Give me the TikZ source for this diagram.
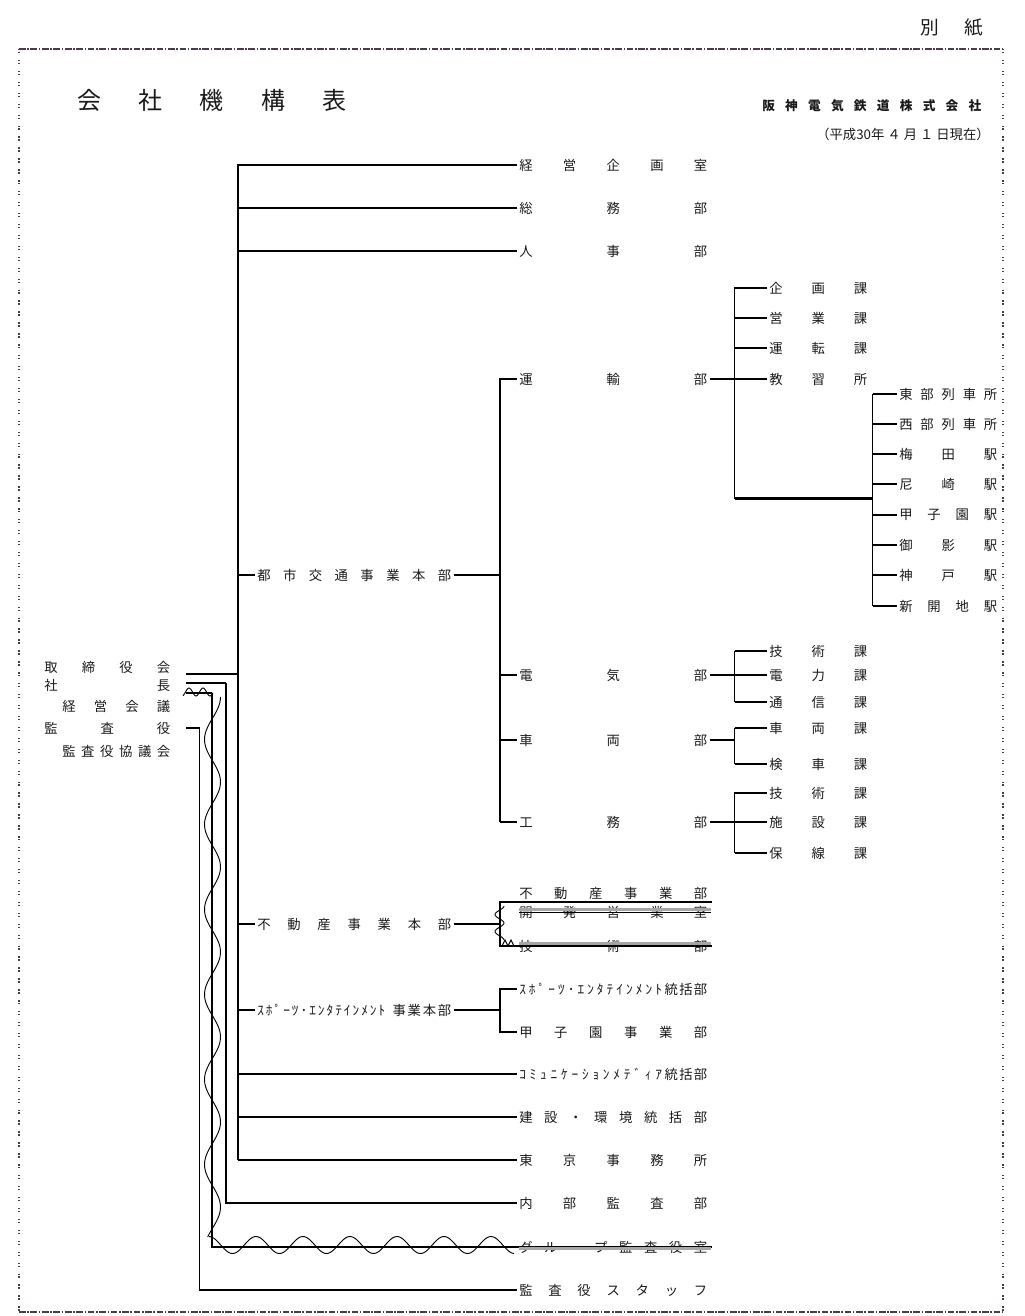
\documentclass[tikz,border=0pt]{standalone}
\usepackage{fontspec}
\newfontfamily\jp{Noto Sans CJK JP}
\usetikzlibrary{calc}
\definecolor{bord}{HTML}{4A3C4A}
\definecolor{txt}{HTML}{1A1A1A}
\makeatletter
\newcommand\spr[2]{\makebox[#1][s]{\def\sp@sep{}\@tfor\sp@c:=#2\do{\sp@sep\sp@c\def\sp@sep{\hfill}}}}
\makeatother
\tikzset{
 lab/.style={inner xsep=1.5pt, inner ysep=0pt, anchor=west, text=txt},
 thk/.style={line width=1.9pt},
 thn/.style={line width=0.9pt},
 wav/.style={line width=0.7pt},
 strk/.style={gray!70, line width=2.2pt},
}
\begin{document}
\begin{tikzpicture}[x=0.75pt,y=-0.75pt,font={\jp\fontsize{10}{12}\selectfont}]
\useasboundingbox (0,0) rectangle (1024,1316);
% border
\draw[bord, line width=0.9pt, dash pattern=on 5pt off 1.2pt on 1.2pt off 1.2pt] (19,49) -- (1003,49);
\draw[bord, line width=0.9pt, dash pattern=on 5pt off 1.2pt on 1.2pt off 1.2pt] (19,1312) -- (1003,1312);
\draw[bord, line width=1.2pt, dash pattern=on 1pt off 1.2pt on 1pt off 5pt] (19,49) -- (19,1312);
\draw[bord, line width=1.2pt, dash pattern=on 1pt off 1.2pt on 1pt off 5pt] (1003,49) -- (1003,1312);
% header
\node[lab, font={\jp\fontsize{14}{16}\selectfont}] (bessi) at (918,28) {\spr{47pt}{別紙}};
\node[lab, font={\jp\fontsize{18}{20}\selectfont}] (title) at (75,100) {\spr{201.75pt}{会社機構表}};
\node[lab, font={\jp\bfseries\fontsize{9.5}{11}\selectfont}] (corp) at (760,106) {\spr{164.25pt}{阪神電気鉄道株式会社}};
\node[lab, anchor=east] (date) at (992,134) {（平成30年 ４ 月 １ 日現在）};
% left labels
\node[lab] (l1) at (42,667) {\spr{94.5pt}{取締役会}};
\node[lab] (l2) at (42,685) {\spr{94.5pt}{社長}};
\node[lab] (l3) at (60,706) {\spr{81pt}{経営会議}};
\node[lab] (l4) at (42,728) {\spr{94.5pt}{監査役}};
\node[lab] (l5) at (60,751) {\spr{81pt}{監査役協議会}};
% mid labels
\node[lab] (m1) at (255,575) {\spr{145.5pt}{都市交通事業本部}};
\node[lab] (m2) at (255,924) {\spr{145.5pt}{不動産事業本部}};
\node[lab] (m3) at (255,1010) {\makebox[145.5pt][s]{\spr{96pt}{ｽﾎﾟｰﾂ･ｴﾝﾀﾃｲﾝﾒﾝﾄ}\hfill\spr{44pt}{事業本部}}};
% column A
\node[lab] (a1) at (517,165) {\spr{141pt}{経営企画室}};
\node[lab] (a2) at (517,208) {\spr{141pt}{総務部}};
\node[lab] (a3) at (517,251) {\spr{141pt}{人事部}};
\node[lab] (a4) at (517,379) {\spr{141pt}{運輸部}};
\node[lab] (a5) at (517,675) {\spr{141pt}{電気部}};
\node[lab] (a6) at (517,740) {\spr{141pt}{車両部}};
\node[lab] (a7) at (517,822) {\spr{141pt}{工務部}};
\node[lab] (a8) at (517,893) {\spr{141pt}{不動産事業部}};
\node[lab] (a9) at (517,912) {\spr{141pt}{開発営業室}};
\node[lab] (a10) at (517,946) {\spr{141pt}{技術部}};
\node[lab] (a11) at (517,989) {\makebox[141pt][s]{\spr{107pt}{ｽﾎﾟｰﾂ･ｴﾝﾀﾃｲﾝﾒﾝﾄ}\hfill\spr{32pt}{統括部}}};
\node[lab] (a12) at (517,1032) {\spr{141pt}{甲子園事業部}};
\node[lab] (a13) at (517,1074) {\makebox[141pt][s]{\spr{107pt}{ｺﾐｭﾆｹｰｼｮﾝﾒﾃﾞｨｱ}\hfill\spr{32pt}{統括部}}};
\node[lab] (a14) at (517,1117) {\spr{141pt}{建設・環境統括部}};
\node[lab] (a15) at (517,1160) {\spr{141pt}{東京事務所}};
\node[lab] (a16) at (517,1203) {\spr{141pt}{内部監査部}};
\node[lab] (a17) at (517,1247) {\spr{141pt}{グループ監査役室}};
\node[lab] (a18) at (517,1290) {\spr{141pt}{監査役スタッフ}};
% column B
\node[lab] (b1) at (767,288) {\spr{73.5pt}{企画課}};
\node[lab] (b2) at (767,318) {\spr{73.5pt}{営業課}};
\node[lab] (b3) at (767,348) {\spr{73.5pt}{運転課}};
\node[lab] (b4) at (767,379) {\spr{73.5pt}{教習所}};
\node[lab] (b5) at (767,651) {\spr{73.5pt}{技術課}};
\node[lab] (b6) at (767,675) {\spr{73.5pt}{電力課}};
\node[lab] (b7) at (767,702) {\spr{73.5pt}{通信課}};
\node[lab] (b8) at (767,728) {\spr{73.5pt}{車両課}};
\node[lab] (b9) at (767,764) {\spr{73.5pt}{検車課}};
\node[lab] (b10) at (767,793) {\spr{73.5pt}{技術課}};
\node[lab] (b11) at (767,822) {\spr{73.5pt}{施設課}};
\node[lab] (b12) at (767,853) {\spr{73.5pt}{保線課}};
% column C
\node[lab] (c1) at (897,394) {\spr{73.5pt}{東部列車所}};
\node[lab] (c2) at (897,424) {\spr{73.5pt}{西部列車所}};
\node[lab] (c3) at (897,454) {\spr{73.5pt}{梅田駅}};
\node[lab] (c4) at (897,484) {\spr{73.5pt}{尼崎駅}};
\node[lab] (c5) at (897,515) {\spr{73.5pt}{甲子園駅}};
\node[lab] (c6) at (897,545) {\spr{73.5pt}{御影駅}};
\node[lab] (c7) at (897,575) {\spr{73.5pt}{神戸駅}};
\node[lab] (c8) at (897,606) {\spr{73.5pt}{新開地駅}};
% junction coordinates
\coordinate (trunkTop) at (238,165);
\coordinate (trunkBot) at (238,1160);
\coordinate (kL) at (186,674);
\coordinate (sL) at (186,683); \coordinate (sV) at (225.5,683);
\coordinate (gL) at (186,693); \coordinate (gV) at (212,693);
\coordinate (aL) at (186,728); \coordinate (aV) at (199.5,728);
\coordinate (bU) at (500,379);
\coordinate (bR) at (734.5,288); \coordinate (bRb) at (734.5,498.5);
\coordinate (bS) at (872.5,394);
\coordinate (bE) at (734.5,650);
\coordinate (fT) at (500,902); \coordinate (fTe) at (712,902); \coordinate (fB) at (500,946);
% left connectors
\draw[thk] (kL) -- (kL -| trunkTop);
\draw[thn] (sL) -- (sV) -- (sV |- a16.west) -- (a16.west);
\draw[line width=1.5pt] (sV) -- (sV |- a16.west);
\draw[thk] (gL) -- (gV);
\draw[thn] (gV) -- (gV |- a17.west) -- ($(a17.east)+(2,0)$);
\draw[thk] (aL) -- (aV);
\draw[thn] (aV) -- (aV |- a18.west) -- (a18.west);
% trunk
\draw[thk] (a1.west) -- (trunkTop) -- (trunkBot);
\draw[thk] (a2.west -| trunkTop) -- (a2.west);
\draw[thk] (a3.west -| trunkTop) -- (a3.west);
\draw[thk] (m1.west -| trunkTop) -- (m1.west);
\draw[thk] (m2.west -| trunkTop) -- (m2.west);
\draw[thk] (m3.west -| trunkTop) -- (m3.west);
\draw[thn] (a13.west -| trunkTop) -- (a13.west);
\draw[thn] (a14.west -| trunkTop) -- (a14.west);
\draw[thn] (trunkBot) -- (a15.west);
% urban transport
\draw[thk] (m1.east) -- (m1.east -| bU);
\draw[thn] (a4.west) -- (a4.west -| bU) -- (a7.west -| bU);
\draw[thk] (a5.west -| bU) -- (a5.west);
\draw[thk] (a6.west -| bU) -- (a6.west);
\draw[thk] (a7.west -| bU) -- (a7.west);
% transport dept
\draw[thn] (a4.east) -- (b4.west);
\draw[thn] (b1.west) -- (b1.west -| bR) -- (bRb);
\draw[thk] (b2.west -| bR) -- (b2.west);
\draw[thk] (b3.west -| bR) -- (b3.west);
\draw[thk] (bRb) -- (bRb -| bS);
\draw[thn] (c1.west -| bS) -- (c8.west -| bS);
\draw[thk] (c1.west -| bS) -- (c1.west);
\draw[thk] (c2.west -| bS) -- (c2.west);
\draw[thn] (c3.west -| bS) -- (c3.west);
\draw[thk] (c4.west -| bS) -- (c4.west);
\draw[thk] (c5.west -| bS) -- (c5.west);
\draw[thn] (c6.west -| bS) -- (c6.west);
\draw[thk] (c7.west -| bS) -- (c7.west);
\draw[thk] (c8.west -| bS) -- (c8.west);
% electric
\draw[thk] (a5.east) -- (b6.west);
\draw[thn] (b5.west -| bE) -- (b7.west -| bE);
\draw[thk] (b5.west -| bE) -- (b5.west);
\draw[thk] (b7.west -| bE) -- (b7.west);
% rolling stock
\draw[thk] (a6.east) -- (a6.east -| bE);
\draw[thn] (b8.west -| bE) -- (b9.west -| bE);
\draw[thk] (b8.west -| bE) -- (b8.west);
\draw[thk] (b9.west -| bE) -- (b9.west);
% track
\draw[thk] (a7.east) -- (b11.west);
\draw[thn] (b10.west) -- (b10.west -| bE) -- (b12.west -| bE);
\draw[thk] (b12.west -| bE) -- (b12.west);
% real estate
\draw[thk] (m2.east) -- (m2.east -| bU);
\draw[thn] (fTe) -- (fT) -- (fB) -- (fB -| fTe);
\draw[strk] (519,909.5) -- (711,909.5);
\draw[thn] (519,912.5) -- (711,912.5);
\draw[strk] (519,943.5) -- (711,943.5);
\draw[wav] plot[domain=906:940, samples=60, smooth, variable=\t] ({499.5+4.5*cos((\t-906)/17*360)}, {\t});
\draw[wav] (502,946) -- (505,940) -- (508,946) -- (511,940) -- (514,946);
% sports
\draw[thk] (m3.east) -- (m3.east -| bU);
\draw[thn] (a11.west) -- (a11.west -| bU) -- (a12.west -| bU) -- (a12.west);
% group audit strike
\draw[strk] (519,1248.5) -- (711,1248.5);
% waves
\draw[wav] plot[domain=183:213, samples=40, smooth, variable=\t] ({\t}, {692-4*cos((\t-189)/14*360)});
\draw[wav] plot[domain=697:1237, samples=180, smooth, variable=\t] ({212.5+8*cos((\t-697)/85*360)}, {\t});
\draw[wav] plot[domain=209:514, samples=180, smooth, variable=\t] ({\t}, {1245-8.5*cos((\t-209)/47*360)});
\end{tikzpicture}
\end{document}
